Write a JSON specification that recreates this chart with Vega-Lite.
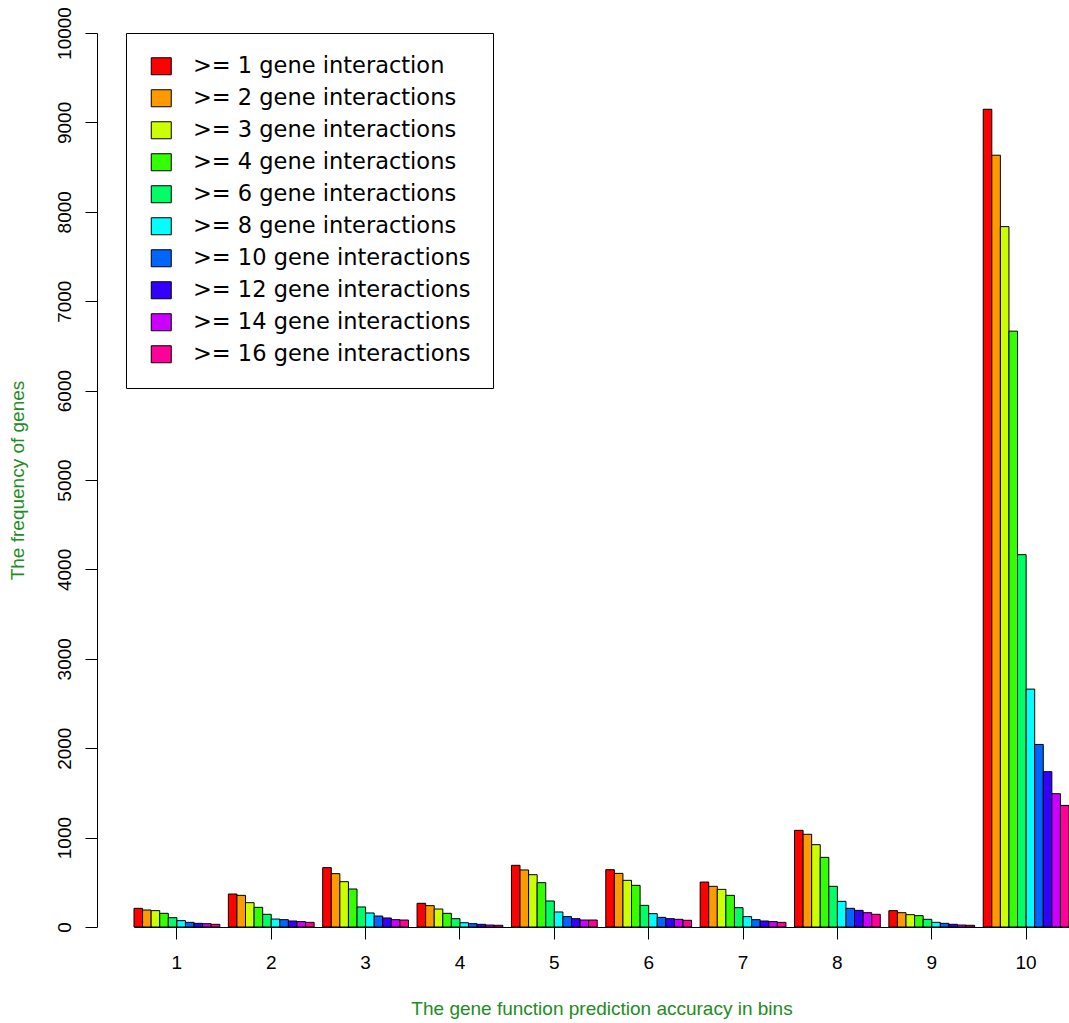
{
  "$schema": "https://vega.github.io/schema/vega-lite/v6.json",
  "autosize": {"type": "none"},
  "padding": {"left": 134, "top": 33, "right": 0, "bottom": 96},
  "width": 935,
  "height": 894,
  "background": "white",
  "data": {
    "values": [
      {"bin": 1, "series": ">= 1 gene interaction", "n": 209},
      {"bin": 1, "series": ">= 2 gene interactions", "n": 190},
      {"bin": 1, "series": ">= 3 gene interactions", "n": 183},
      {"bin": 1, "series": ">= 4 gene interactions", "n": 153},
      {"bin": 1, "series": ">= 6 gene interactions", "n": 104},
      {"bin": 1, "series": ">= 8 gene interactions", "n": 71},
      {"bin": 1, "series": ">= 10 gene interactions", "n": 52},
      {"bin": 1, "series": ">= 12 gene interactions", "n": 41},
      {"bin": 1, "series": ">= 14 gene interactions", "n": 37},
      {"bin": 1, "series": ">= 16 gene interactions", "n": 30},
      {"bin": 2, "series": ">= 1 gene interaction", "n": 369},
      {"bin": 2, "series": ">= 2 gene interactions", "n": 354},
      {"bin": 2, "series": ">= 3 gene interactions", "n": 272},
      {"bin": 2, "series": ">= 4 gene interactions", "n": 220},
      {"bin": 2, "series": ">= 6 gene interactions", "n": 142},
      {"bin": 2, "series": ">= 8 gene interactions", "n": 89},
      {"bin": 2, "series": ">= 10 gene interactions", "n": 82},
      {"bin": 2, "series": ">= 12 gene interactions", "n": 67},
      {"bin": 2, "series": ">= 14 gene interactions", "n": 60},
      {"bin": 2, "series": ">= 16 gene interactions", "n": 52},
      {"bin": 3, "series": ">= 1 gene interaction", "n": 664},
      {"bin": 3, "series": ">= 2 gene interactions", "n": 597},
      {"bin": 3, "series": ">= 3 gene interactions", "n": 507},
      {"bin": 3, "series": ">= 4 gene interactions", "n": 425},
      {"bin": 3, "series": ">= 6 gene interactions", "n": 224},
      {"bin": 3, "series": ">= 8 gene interactions", "n": 157},
      {"bin": 3, "series": ">= 10 gene interactions", "n": 123},
      {"bin": 3, "series": ">= 12 gene interactions", "n": 101},
      {"bin": 3, "series": ">= 14 gene interactions", "n": 82},
      {"bin": 3, "series": ">= 16 gene interactions", "n": 78},
      {"bin": 4, "series": ">= 1 gene interaction", "n": 265},
      {"bin": 4, "series": ">= 2 gene interactions", "n": 239},
      {"bin": 4, "series": ">= 3 gene interactions", "n": 201},
      {"bin": 4, "series": ">= 4 gene interactions", "n": 153},
      {"bin": 4, "series": ">= 6 gene interactions", "n": 93},
      {"bin": 4, "series": ">= 8 gene interactions", "n": 48},
      {"bin": 4, "series": ">= 10 gene interactions", "n": 37},
      {"bin": 4, "series": ">= 12 gene interactions", "n": 30},
      {"bin": 4, "series": ">= 14 gene interactions", "n": 22},
      {"bin": 4, "series": ">= 16 gene interactions", "n": 19},
      {"bin": 5, "series": ">= 1 gene interaction", "n": 690},
      {"bin": 5, "series": ">= 2 gene interactions", "n": 638},
      {"bin": 5, "series": ">= 3 gene interactions", "n": 585},
      {"bin": 5, "series": ">= 4 gene interactions", "n": 496},
      {"bin": 5, "series": ">= 6 gene interactions", "n": 291},
      {"bin": 5, "series": ">= 8 gene interactions", "n": 168},
      {"bin": 5, "series": ">= 10 gene interactions", "n": 116},
      {"bin": 5, "series": ">= 12 gene interactions", "n": 93},
      {"bin": 5, "series": ">= 14 gene interactions", "n": 78},
      {"bin": 5, "series": ">= 16 gene interactions", "n": 78},
      {"bin": 6, "series": ">= 1 gene interaction", "n": 641},
      {"bin": 6, "series": ">= 2 gene interactions", "n": 600},
      {"bin": 6, "series": ">= 3 gene interactions", "n": 522},
      {"bin": 6, "series": ">= 4 gene interactions", "n": 466},
      {"bin": 6, "series": ">= 6 gene interactions", "n": 242},
      {"bin": 6, "series": ">= 8 gene interactions", "n": 149},
      {"bin": 6, "series": ">= 10 gene interactions", "n": 108},
      {"bin": 6, "series": ">= 12 gene interactions", "n": 93},
      {"bin": 6, "series": ">= 14 gene interactions", "n": 86},
      {"bin": 6, "series": ">= 16 gene interactions", "n": 75},
      {"bin": 7, "series": ">= 1 gene interaction", "n": 503},
      {"bin": 7, "series": ">= 2 gene interactions", "n": 455},
      {"bin": 7, "series": ">= 3 gene interactions", "n": 421},
      {"bin": 7, "series": ">= 4 gene interactions", "n": 354},
      {"bin": 7, "series": ">= 6 gene interactions", "n": 216},
      {"bin": 7, "series": ">= 8 gene interactions", "n": 116},
      {"bin": 7, "series": ">= 10 gene interactions", "n": 82},
      {"bin": 7, "series": ">= 12 gene interactions", "n": 67},
      {"bin": 7, "series": ">= 14 gene interactions", "n": 60},
      {"bin": 7, "series": ">= 16 gene interactions", "n": 52},
      {"bin": 8, "series": ">= 1 gene interaction", "n": 1081},
      {"bin": 8, "series": ">= 2 gene interactions", "n": 1037},
      {"bin": 8, "series": ">= 3 gene interactions", "n": 921},
      {"bin": 8, "series": ">= 4 gene interactions", "n": 779},
      {"bin": 8, "series": ">= 6 gene interactions", "n": 455},
      {"bin": 8, "series": ">= 8 gene interactions", "n": 287},
      {"bin": 8, "series": ">= 10 gene interactions", "n": 209},
      {"bin": 8, "series": ">= 12 gene interactions", "n": 186},
      {"bin": 8, "series": ">= 14 gene interactions", "n": 160},
      {"bin": 8, "series": ">= 16 gene interactions", "n": 142},
      {"bin": 9, "series": ">= 1 gene interaction", "n": 183},
      {"bin": 9, "series": ">= 2 gene interactions", "n": 160},
      {"bin": 9, "series": ">= 3 gene interactions", "n": 138},
      {"bin": 9, "series": ">= 4 gene interactions", "n": 127},
      {"bin": 9, "series": ">= 6 gene interactions", "n": 86},
      {"bin": 9, "series": ">= 8 gene interactions", "n": 52},
      {"bin": 9, "series": ">= 10 gene interactions", "n": 41},
      {"bin": 9, "series": ">= 12 gene interactions", "n": 30},
      {"bin": 9, "series": ">= 14 gene interactions", "n": 22},
      {"bin": 9, "series": ">= 16 gene interactions", "n": 19},
      {"bin": 10, "series": ">= 1 gene interaction", "n": 9147},
      {"bin": 10, "series": ">= 2 gene interactions", "n": 8633},
      {"bin": 10, "series": ">= 3 gene interactions", "n": 7834},
      {"bin": 10, "series": ">= 4 gene interactions", "n": 6665},
      {"bin": 10, "series": ">= 6 gene interactions", "n": 4165},
      {"bin": 10, "series": ">= 8 gene interactions", "n": 2661},
      {"bin": 10, "series": ">= 10 gene interactions", "n": 2042},
      {"bin": 10, "series": ">= 12 gene interactions", "n": 1737},
      {"bin": 10, "series": ">= 14 gene interactions", "n": 1491},
      {"bin": 10, "series": ">= 16 gene interactions", "n": 1360}
    ]
  },
  "mark": {"type": "bar", "stroke": "black", "strokeWidth": 1, "opacity": 1},
  "encoding": {
    "x": {
      "field": "bin",
      "type": "ordinal",
      "scale": {"paddingInner": 0.0909, "paddingOuter": 0},
      "axis": {
        "title": "The gene function prediction accuracy in bins",
        "labelAngle": 0,
        "tickSize": 12,
        "labelPadding": 14,
        "titleY": 87,
        "titleBaseline": "alphabetic",
        "titleColor": "forestgreen"
      }
    },
    "xOffset": {
      "field": "series",
      "type": "nominal",
      "scale": {
        "domain": [">= 1 gene interaction", ">= 2 gene interactions", ">= 3 gene interactions", ">= 4 gene interactions", ">= 6 gene interactions", ">= 8 gene interactions", ">= 10 gene interactions", ">= 12 gene interactions", ">= 14 gene interactions", ">= 16 gene interactions"],
        "paddingInner": 0,
        "paddingOuter": 0
      }
    },
    "y": {
      "field": "n",
      "type": "quantitative",
      "scale": {"domain": [0, 10000], "nice": false},
      "axis": {
        "title": "The frequency of genes",
        "values": [0, 1000, 2000, 3000, 4000, 5000, 6000, 7000, 8000, 9000, 10000],
        "format": "d",
        "offset": 37,
        "tickSize": 12,
        "labelAngle": -90,
        "labelAlign": "center",
        "labelBaseline": "alphabetic",
        "labelPadding": 15,
        "titleAngle": -90,
        "titleX": -73.5,
        "titleY": 447,
        "titleAlign": "center",
        "titleBaseline": "alphabetic",
        "titleColor": "forestgreen"
      }
    },
    "fill": {
      "field": "series",
      "type": "nominal",
      "scale": {
        "domain": [">= 1 gene interaction", ">= 2 gene interactions", ">= 3 gene interactions", ">= 4 gene interactions", ">= 6 gene interactions", ">= 8 gene interactions", ">= 10 gene interactions", ">= 12 gene interactions", ">= 14 gene interactions", ">= 16 gene interactions"],
        "range": ["#FF0000", "#FF9900", "#CCFF00", "#33FF00", "#00FF66", "#00FFFF", "#0066FF", "#3300FF", "#CC00FF", "#FF0099"]
      },
      "legend": {
        "title": null,
        "orient": "none",
        "legendX": -8,
        "legendY": 0,
        "padding": 22,
        "strokeColor": "black",
        "fillColor": "white",
        "labelFont": "DejaVu Sans",
        "labelFontSize": 22.5,
        "labelColor": "black",
        "labelLimit": 600,
        "labelOffset": 20.5,
        "symbolType": "M-1,-0.85H1V0.85H-1Z",
        "symbolSize": 400,
        "symbolStrokeColor": "black",
        "symbolStrokeWidth": 1,
        "symbolOpacity": 1,
        "symbolOffset": 2,
        "rowPadding": 9
      }
    }
  },
  "config": {
    "view": {"stroke": null},
    "font": "Liberation Sans",
    "axis": {
      "grid": false,
      "domainColor": "black",
      "tickColor": "black",
      "labelColor": "black",
      "labelFont": "Liberation Sans",
      "labelFontSize": 19,
      "titleFont": "Liberation Sans",
      "titleFontSize": 19,
      "titleFontWeight": "normal",
      "domainWidth": 1,
      "tickWidth": 1
    }
  }
}
